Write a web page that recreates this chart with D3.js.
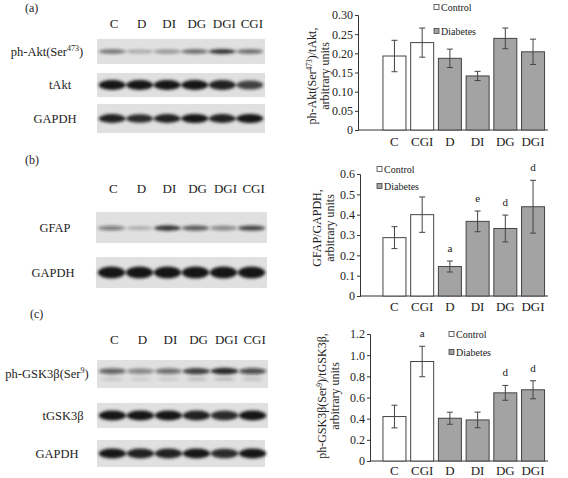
<!DOCTYPE html>
<html>
<head>
<meta charset="utf-8">
<script src="https://cdn.jsdelivr.net/npm/d3@7"></script>
<style>
  body { margin: 0; background: #fff; }
  text { font-family: "Liberation Serif", "Times New Roman", serif; fill: #222; }
</style>
</head>
<body>
<div id="fig"></div>
<script>
/* ---------- data ---------- */

const groups = ["C", "CGI", "D", "DI", "DG", "DGI"];
const isControl = ["C", "CGI"];

// (a) ph-Akt / tAkt
const aktMean = [0.193, 0.228, 0.187, 0.141, 0.239, 0.204];
const aktErr  = [0.041, 0.038, 0.024, 0.012, 0.027, 0.033];
const aktLetters = ["", "", "", "", "", ""];
const aktTicks = [0, 0.05, 0.10, 0.15, 0.20, 0.25, 0.30];

// (b) GFAP / GAPDH
const gfapMean = [0.287, 0.400, 0.145, 0.367, 0.332, 0.439];
const gfapErr  = [0.054, 0.087, 0.027, 0.051, 0.066, 0.130];
const gfapLetters = ["", "", "a", "e", "d", "d"];
const gfapTicks = [0, 0.1, 0.2, 0.3, 0.4, 0.5, 0.6];

// (c) ph-GSK3b / tGSK3b
const gskMean = [0.42, 0.94, 0.404, 0.388, 0.644, 0.673];
const gskErr  = [0.107, 0.144, 0.057, 0.074, 0.070, 0.085];
const gskLetters = ["", "a", "", "", "d", "d"];
const gskTicks = [0, 0.2, 0.4, 0.6, 0.8, 1.0, 1.2];

const lanes = ["C", "D", "DI", "DG", "DGI", "CGI"];
const phAktBands  = [0.55, 0.30, 0.40, 0.60, 0.85, 0.60];
const tAktBands   = [1.00, 1.00, 1.00, 1.00, 0.95, 0.80];
const gapdhABands = [0.95, 0.90, 0.95, 1.00, 0.95, 1.00];
const gfapBands   = [0.50, 0.22, 0.85, 0.65, 0.45, 0.75];
const gapdhBBands = [1.00, 1.00, 1.00, 1.00, 1.00, 1.00];
const phGskBands  = [0.60, 0.45, 0.55, 0.80, 0.90, 0.70];
const tGskBands   = [1.00, 1.00, 1.00, 0.95, 0.90, 1.00];
const gapdhCBands = [1.00, 0.95, 0.95, 1.00, 0.90, 1.00];

/* ---------- svg ---------- */

const W = 568, H = 478;
const svg = d3.select("#fig").append("svg")
  .attr("width", W).attr("height", H);

const defs = svg.append("defs");
defs.append("filter").attr("id", "blur")
  .attr("x", "-30%").attr("y", "-80%").attr("width", "160%").attr("height", "260%")
  .append("feGaussianBlur").attr("stdDeviation", 1.5);

/* ---------- western blots ---------- */

function drawBlotPanel(cfg) {
  const g = svg.append("g");
  g.append("text").attr("x", cfg.letterX).attr("y", cfg.letterY)
    .attr("font-size", 12).text(cfg.letter);

  const x = d3.scaleBand().domain(lanes).range([cfg.x0, cfg.x1]).padding(0.1);

  g.selectAll(".lane").data(lanes).enter().append("text")
    .attr("x", d => x(d) + x.bandwidth() / 2 + 2)
    .attr("y", cfg.laneY)
    .attr("text-anchor", "middle")
    .attr("font-size", 13)
    .text(d => d);

  cfg.rows.forEach(r => {
    g.append("rect")
      .attr("x", cfg.x0).attr("y", r.y)
      .attr("width", (r.x1 || cfg.x1) - cfg.x0).attr("height", r.h)
      .attr("fill", "#e0e0e0");

    const label = g.append("text")
      .attr("x", r.labelX).attr("y", r.y + r.h / 2 + 4)
      .attr("text-anchor", "middle").attr("font-size", 12.5);
    if (r.sup) {
      label.append("tspan").text(r.label);
      label.append("tspan").attr("dy", -5).attr("font-size", 8).text(r.sup);
      label.append("tspan").attr("dy", 5).text(")");
    } else {
      label.text(r.label);
    }

    const bands = g.append("g").attr("filter", "url(#blur)");
    bands.selectAll("ellipse").data(r.bands).enter().append("ellipse")
      .attr("cx", (d, i) => x(lanes[i]) + x.bandwidth() / 2)
      .attr("cy", r.y + r.h * r.pos)
      .attr("rx", x.bandwidth() / 2 + 1)
      .attr("ry", d => r.thick * (0.6 + 0.4 * d))
      .attr("fill", "#151515")
      .attr("opacity", d => d);

    if (r.lower) {
      bands.selectAll(".low").data(r.bands).enter().append("ellipse")
        .attr("cx", (d, i) => x(lanes[i]) + x.bandwidth() / 2)
        .attr("cy", r.y + r.h * 0.68)
        .attr("rx", x.bandwidth() / 2 - 2)
        .attr("ry", 1.2)
        .attr("fill", "#333")
        .attr("opacity", d => d * 0.35);
    }
  });
}

drawBlotPanel({
  letter: "(a)", letterX: 25, letterY: 12,
  x0: 97, x1: 265, laneY: 28,
  rows: [
    { label: "ph-Akt(Ser", sup: "473", labelX: 47, y: 39, h: 25, bands: phAktBands, thick: 2.6, pos: 0.5 },
    { label: "tAkt", labelX: 60, y: 73, h: 24, bands: tAktBands, thick: 5, pos: 0.5 },
    { label: "GAPDH", labelX: 55, y: 104, h: 29, bands: gapdhABands, thick: 4.5, pos: 0.5 }
  ]
});

drawBlotPanel({
  letter: "(b)", letterX: 25, letterY: 164,
  x0: 96, x1: 267, laneY: 193,
  rows: [
    { label: "GFAP", labelX: 55, y: 212, h: 31, bands: gfapBands, thick: 3, pos: 0.52 },
    { label: "GAPDH", labelX: 53, y: 257, h: 31, bands: gapdhBBands, thick: 6, pos: 0.5 }
  ]
});

drawBlotPanel({
  letter: "(c)", letterX: 30, letterY: 318,
  x0: 97, x1: 268, laneY: 344,
  rows: [
    { label: "ph-GSK3β(Ser", sup: "9", labelX: 47, y: 360, h: 28, bands: phGskBands, thick: 3.5, pos: 0.4, lower: true },
    { label: "tGSK3β", labelX: 63, y: 403, h: 25, bands: tGskBands, thick: 5, pos: 0.5 },
    { label: "GAPDH", labelX: 57, y: 440, h: 27, bands: gapdhCBands, thick: 5, pos: 0.5, x1: 265 }
  ]
});

/* ---------- bar charts ---------- */

function drawChart(cfg) {
  const g = svg.append("g");
  const x = d3.scaleBand().domain(groups).range([380.6, 546.9])
    .paddingInner(0.17).paddingOuter(0.085);
  const y = d3.scaleLinear().domain([0, cfg.max]).range([cfg.y0, cfg.yTop]);

  // y axis
  const yAxis = d3.axisLeft(y).tickValues(cfg.ticks).tickSize(3).tickPadding(2)
    .tickFormat(d => d === 0 ? "0" : d3.format(cfg.fmt)(d));
  const ya = g.append("g").attr("transform", `translate(${cfg.axisX},0)`).call(yAxis);
  ya.select(".domain").attr("stroke", "#333");
  ya.selectAll(".tick line").attr("stroke", "#333");
  ya.selectAll(".tick text").attr("font-size", 12)
    .attr("font-family", "Liberation Serif").attr("fill", "#222");

  // x baseline
  g.append("line").attr("x1", cfg.axisX).attr("x2", 548)
    .attr("y1", cfg.y0).attr("y2", cfg.y0).attr("stroke", "#333");

  g.selectAll(".xl").data(groups).enter().append("text")
    .attr("x", d => x(d) + x.bandwidth() / 2)
    .attr("y", cfg.y0 + cfg.xlabDy)
    .attr("text-anchor", "middle").attr("font-size", 13)
    .text(d => d);

  // bars
  g.selectAll(".bar").data(groups).enter().append("rect")
    .attr("x", d => x(d)).attr("width", x.bandwidth())
    .attr("y", (d, i) => y(cfg.mean[i]))
    .attr("height", (d, i) => cfg.y0 - y(cfg.mean[i]))
    .attr("fill", d => isControl.includes(d) ? "#fff" : "#a3a3a3")
    .attr("stroke", "#444").attr("stroke-width", 1);

  // error bars
  const eb = g.selectAll(".err").data(groups).enter().append("g")
    .attr("stroke", "#444").attr("stroke-width", 1);
  eb.append("line")
    .attr("x1", d => x(d) + x.bandwidth() / 2).attr("x2", d => x(d) + x.bandwidth() / 2)
    .attr("y1", (d, i) => y(cfg.mean[i] + cfg.err[i]))
    .attr("y2", (d, i) => y(cfg.mean[i] - cfg.err[i]));
  [1, -1].forEach(s => {
    eb.append("line")
      .attr("x1", d => x(d) + x.bandwidth() / 2 - 3).attr("x2", d => x(d) + x.bandwidth() / 2 + 3)
      .attr("y1", (d, i) => y(cfg.mean[i] + s * cfg.err[i]))
      .attr("y2", (d, i) => y(cfg.mean[i] + s * cfg.err[i]));
  });

  // significance letters
  g.selectAll(".sig").data(groups).enter().append("text")
    .attr("x", d => x(d) + x.bandwidth() / 2)
    .attr("y", (d, i) => y(cfg.mean[i] + cfg.err[i]) - 9)
    .attr("text-anchor", "middle").attr("font-size", 11)
    .text((d, i) => cfg.letters[i]);

  // legend
  [["Control", "#fff"], ["Diabetes", "#a3a3a3"]].forEach(([name, fill], i) => {
    const ly = cfg.legY + i * cfg.legGap;
    g.append("rect").attr("x", cfg.legX).attr("y", ly - 2.5)
      .attr("width", 5).attr("height", 5)
      .attr("fill", fill).attr("stroke", "#444").attr("stroke-width", 0.8);
    g.append("text").attr("x", cfg.legX + 7).attr("y", ly + 3.5)
      .attr("font-size", 10).text(name);
  });

  // y label (two lines, rotated)
  const lab = g.append("g")
    .attr("transform", `translate(${cfg.labX},${cfg.labY}) rotate(-90)`);
  const t1 = lab.append("text").attr("text-anchor", "middle").attr("y", 0).attr("font-size", 12);
  let shift = 0;
  cfg.label1.forEach(part => {
    if (part.sup) {
      t1.append("tspan").attr("dy", -4).attr("font-size", 7.5).text(part.sup);
      shift = 4;
    } else {
      t1.append("tspan").attr("dy", shift).text(part.t);
      shift = 0;
    }
  });
  lab.append("text").attr("text-anchor", "middle").attr("y", 13).attr("font-size", 12)
    .text("arbitrary units");
}

drawChart({
  mean: aktMean, err: aktErr, letters: aktLetters, ticks: aktTicks,
  max: 0.30, fmt: ".2f", axisX: 358, y0: 130, yTop: 15, xlabDy: 16,
  legX: 434, legY: 7, legGap: 24,
  labX: 316, labY: 76,
  label1: [{ t: "ph-Akt(Ser" }, { sup: "473" }, { t: ")/tAkt," }]
});

drawChart({
  mean: gfapMean, err: gfapErr, letters: gfapLetters, ticks: gfapTicks,
  max: 0.6, fmt: ".1f", axisX: 360, y0: 296, yTop: 174, xlabDy: 15,
  legX: 377, legY: 169, legGap: 17,
  labX: 321, labY: 228,
  label1: [{ t: "GFAP/GAPDH," }]
});

drawChart({
  mean: gskMean, err: gskErr, letters: gskLetters, ticks: gskTicks,
  max: 1.2, fmt: ".1f", axisX: 370, y0: 461, yTop: 334, xlabDy: 13.5,
  legX: 449, legY: 334, legGap: 18,
  labX: 326, labY: 396,
  label1: [{ t: "ph-GSK3β(Ser" }, { sup: "9" }, { t: ")/tGSK3β," }]
});
</script>
</body>
</html>
